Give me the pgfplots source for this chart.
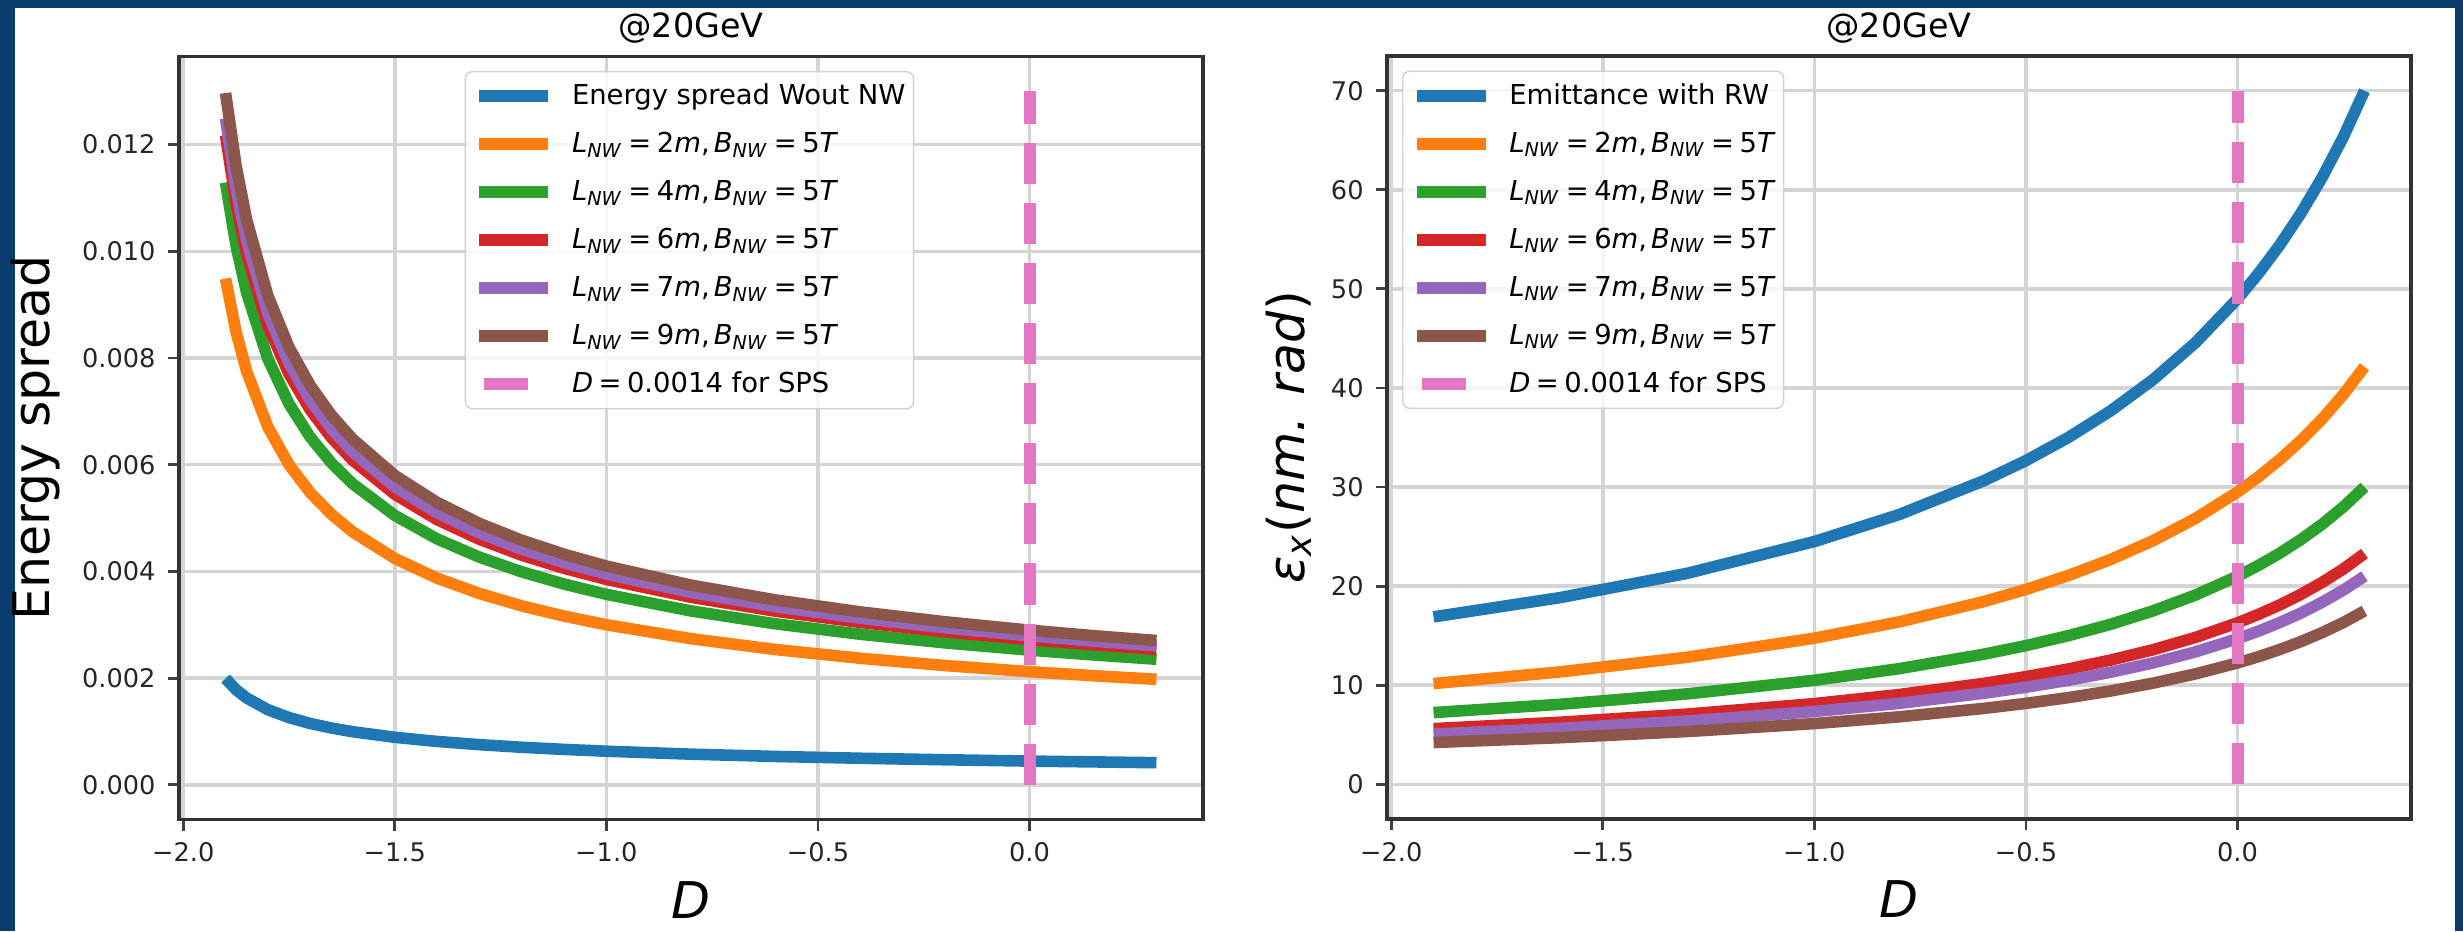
\documentclass[border=0pt]{standalone}
\usepackage{fontspec}
\setmainfont{DejaVu Sans}
\usepackage{pgfplots}
\usepackage{pgfplotstable}
\pgfplotsset{compat=1.18}

\definecolor{tabblue}{HTML}{1F77B4}
\definecolor{taborange}{HTML}{FF7F0E}
\definecolor{tabgreen}{HTML}{2CA02C}
\definecolor{tabred}{HTML}{D62728}
\definecolor{tabpurple}{HTML}{9467BD}
\definecolor{tabbrown}{HTML}{8C564B}
\definecolor{tabpink}{HTML}{E377C2}
\definecolor{navy}{HTML}{0A3D6E}

\newcommand{\lnw}[1]{\textit{L}\textsubscript{\textit{NW}}\kern0.2em=\kern0.2em#1\textit{m},\kern0.15em\textit{B}\textsubscript{\textit{NW}}\kern0.2em=\kern0.2em5\textit{T}}

% energy spread vs D
\pgfplotstableread{
D b o g r p w
-1.9 0.001992 0.009487 0.011289 0.012175 0.012491 0.012965
-1.875 0.001782 0.008485 0.010097 0.010889 0.011172 0.011596
-1.85 0.001627 0.007746 0.009218 0.009941 0.010199 0.010586
-1.8 0.001409 0.006708 0.007983 0.008609 0.008833 0.009168
-1.75 0.001260 0.006000 0.007140 0.007700 0.007900 0.008200
-1.7 0.001150 0.005477 0.006518 0.007029 0.007212 0.007485
-1.65 0.001065 0.005071 0.006034 0.006508 0.006677 0.006930
-1.6 0.000996 0.004743 0.005645 0.006087 0.006245 0.006483
-1.5 0.000891 0.004243 0.005049 0.005445 0.005586 0.005798
-1.4 0.000813 0.003873 0.004609 0.004970 0.005099 0.005293
-1.3 0.000753 0.003586 0.004267 0.004602 0.004721 0.004900
-1.2 0.000704 0.003354 0.003991 0.004304 0.004416 0.004584
-1.1 0.000664 0.003162 0.003763 0.004058 0.004164 0.004322
-1.0 0.000630 0.003000 0.003570 0.003850 0.003950 0.004100
-0.8 0.000575 0.002739 0.003259 0.003515 0.003606 0.003743
-0.6 0.000532 0.002536 0.003017 0.003254 0.003339 0.003465
-0.4 0.000498 0.002372 0.002822 0.003044 0.003123 0.003241
-0.2 0.000470 0.002236 0.002661 0.002870 0.002944 0.003056
0.0 0.000445 0.002121 0.002524 0.002722 0.002793 0.002899
0.15 0.000430 0.002046 0.002435 0.002626 0.002694 0.002796
0.3 0.000415 0.001978 0.002354 0.002539 0.002605 0.002704
}\esdata

% emittance vs D
\pgfplotstableread{
D b o g r p w
-1.9 16.90 10.17 7.24 5.62 5.07 4.22
-1.6 18.85 11.35 8.08 6.27 5.65 4.71
-1.3 21.30 12.83 9.13 7.09 6.39 5.33
-1.0 24.50 14.75 10.50 8.15 7.35 6.13
-0.8 27.22 16.39 11.67 9.06 8.17 6.81
-0.6 30.63 18.44 13.13 10.19 9.19 7.66
-0.5 32.67 19.67 14.00 10.87 9.80 8.17
-0.4 35.00 21.07 15.00 11.64 10.50 8.75
-0.3 37.69 22.69 16.15 12.54 11.31 9.42
-0.2 40.83 24.58 17.50 13.58 12.25 10.21
-0.1 44.55 26.82 19.09 14.82 13.36 11.14
0.0 49.00 29.50 21.00 16.30 14.70 12.25
0.05 51.58 31.05 22.11 17.16 15.47 12.89
0.1 54.44 32.78 23.33 18.11 16.33 13.61
0.15 57.65 34.71 24.71 19.18 17.29 14.41
0.2 61.25 36.88 26.25 20.38 18.38 15.31
0.25 65.33 39.33 28.00 21.73 19.60 16.33
0.3 70.00 42.14 30.00 23.29 21.00 17.50
}\emdata

\pgfplotsset{
  legend image code/.code={\draw[#1] (0cm,0cm) -- (0.69cm,0cm);},
  mpl/.style={
    scale only axis, width=10.24cm, height=7.63cm,
    xmin=-2.01, xmax=0.41,
    xtick={-2,-1.5,-1,-0.5,0},
    xticklabels={−2.0,−1.5,−1.0,−0.5,0.0},
    scaled ticks=false,
    tick pos=left, tick align=outside, major tick length=0.11cm,
    tick style={line width=0.8pt, black!75},
    grid=major, grid style={line width=1pt, black!17},
    axis line style={line width=1pt, black!80},
    ticklabel style={font=\fontsize{7.3}{8.5}\selectfont, black!85},
    label style={font=\fontsize{14.4}{16}\selectfont},
    every axis title shift=0pt,
    title style={font=\fontsize{9.5}{11}\selectfont, at={(axis description cs:0.5,1)}, anchor=base, yshift=0.19cm},
    xlabel style={at={(axis description cs:0.5,-0.105)}, anchor=center},
    every axis plot/.append style={line width=3.3pt, no markers},
    legend cell align=left,
    legend style={font=\fontsize{7.8}{9}\selectfont, fill=white, fill opacity=0.8, text opacity=1, draw opacity=1, draw=black!18, rounded corners=2pt, anchor=north west, row sep=0.15cm, column sep=0.18cm, inner sep=0.08cm, nodes={inner sep=0pt, text height=0.25cm, text depth=0.08cm}},
  },
  sps/.style={tabpink, dash pattern=on 11.7pt off 5.4pt, line cap=butt,
    legend image code/.code={\draw[##1, solid] (0.05cm,0cm) -- (0.49cm,0cm);}},
}

\begin{document}
\begin{tikzpicture}
\fill[navy] (0,0) rectangle (24.63,9.31);
\fill[white] (0.15,0) rectangle (24.55,9.23);

\begin{axis}[mpl, at={(1.79cm,1.115cm)}, anchor=south west,
  ymin=-0.00065, ymax=0.01365,
  ytick={0,0.002,0.004,0.006,0.008,0.010,0.012},
  yticklabels={0.000,0.002,0.004,0.006,0.008,0.010,0.012},
  title={@20GeV}, xlabel={\textit{D}}, ylabel={Energy spread},
  ylabel style={at={(axis description cs:-0.1405,0.5)}, anchor=center},
  legend style={at={(axis description cs:0.279,0.981)}}]
\addplot[tabblue] table[x=D,y=b]{\esdata};
\addplot[taborange] table[x=D,y=o]{\esdata};
\addplot[tabgreen] table[x=D,y=g]{\esdata};
\addplot[tabred] table[x=D,y=r]{\esdata};
\addplot[tabpurple] table[x=D,y=p]{\esdata};
\addplot[tabbrown] table[x=D,y=w]{\esdata};
\addplot[sps] coordinates {(0.0014,0) (0.0014,0.013)};
\legend{Energy spread Wout NW, {\lnw{2}}, {\lnw{4}}, {\lnw{6}}, {\lnw{7}}, {\lnw{9}}, {\textit{D}\kern0.2em=\kern0.2em0.0014 for SPS}}
\end{axis}

\begin{axis}[mpl, at={(13.87cm,1.12cm)}, anchor=south west,
  ymin=-3.5, ymax=73.5,
  ytick={0,10,20,30,40,50,60,70},
  yticklabels={0,10,20,30,40,50,60,70},
  title={@20GeV}, xlabel={\textit{D}},
  ylabel={\textit{ε}\textsubscript{\textit{x}}(\textit{nm. rad})},
  ylabel style={at={(axis description cs:-0.0958,0.5)}, anchor=center},
  legend style={at={(axis description cs:0.0147,0.981)}}]
\addplot[tabblue] table[x=D,y=b]{\emdata};
\addplot[taborange] table[x=D,y=o]{\emdata};
\addplot[tabgreen] table[x=D,y=g]{\emdata};
\addplot[tabred] table[x=D,y=r]{\emdata};
\addplot[tabpurple] table[x=D,y=p]{\emdata};
\addplot[tabbrown] table[x=D,y=w]{\emdata};
\addplot[sps] coordinates {(0.0014,0) (0.0014,70)};
\legend{Emittance with RW, {\lnw{2}}, {\lnw{4}}, {\lnw{6}}, {\lnw{7}}, {\lnw{9}}, {\textit{D}\kern0.2em=\kern0.2em0.0014 for SPS}}
\end{axis}

\pgfresetboundingbox
\path (0,0) rectangle (24.63,9.31);
\end{tikzpicture}
\end{document}
